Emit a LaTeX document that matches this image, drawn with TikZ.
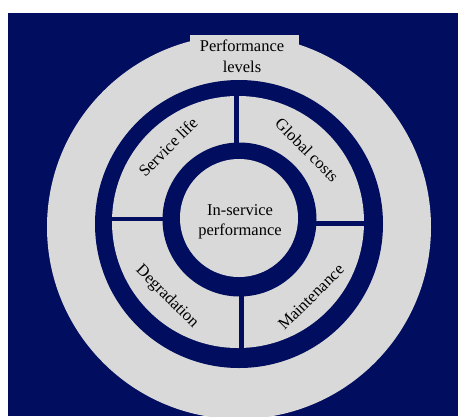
\documentclass[tikz,border=0pt]{standalone}
\usepackage{fontspec}
\setmainfont{Liberation Serif}
\definecolor{navy}{RGB}{1,13,94}
\definecolor{ringgray}{RGB}{217,217,217}
\begin{document}
\begin{tikzpicture}[x=1pt,y=-1pt,
  lbl/.style={align=center,text=black,font=\fontsize{16.5}{20.5}\selectfont,inner sep=0pt},
  divider/.style={draw=navy,line width=4.6pt}]
\useasboundingbox (0,0) rectangle (458,416);
\fill[white] (0,0) rectangle (458,416);
\fill[navy] (8,13) rectangle (458,416);
% outer light ring
\fill[ringgray] (239,227) circle[radius=192pt];
\fill[ringgray] (190,35) rectangle (299,60);
% outer dark ring
\fill[navy] (239,224) circle[radius=144pt];
% segment disk
\fill[ringgray] (238,222) circle[radius=126pt];
% dividers
\coordinate (t1) at (236.3,90); \coordinate (t2) at (236.3,150);
\coordinate (b1) at (241.7,290); \coordinate (b2) at (241.7,355);
\coordinate (l1) at (105,219); \coordinate (l2) at (170,219);
\coordinate (r1) at (310,223.3); \coordinate (r2) at (372,223.3);
\draw[divider] (t1) -- (t2);
\draw[divider] (b1) -- (b2);
\draw[divider] (l1) -- (l2);
\draw[divider] (r1) -- (r2);
% inner dark ring
\fill[navy] (239.5,219.5) circle[radius=77pt];
% inner disk
\fill[ringgray] (239,218) circle[radius=59pt];
% labels
\node[lbl] (perf) at (242,56.5) {Performance\\levels};
\node[lbl] (insv) at (240,222) {In-service\\performance};
\node[lbl,rotate=45] (svc) at (168,147) {Service life};
\node[lbl,rotate=-45] (glob) at (307,150) {Global costs};
\node[lbl,rotate=-45] (deg) at (167,297) {Degradation};
\node[lbl,rotate=45] (mnt) at (311,297) {Maintenance};
\end{tikzpicture}
\end{document}
